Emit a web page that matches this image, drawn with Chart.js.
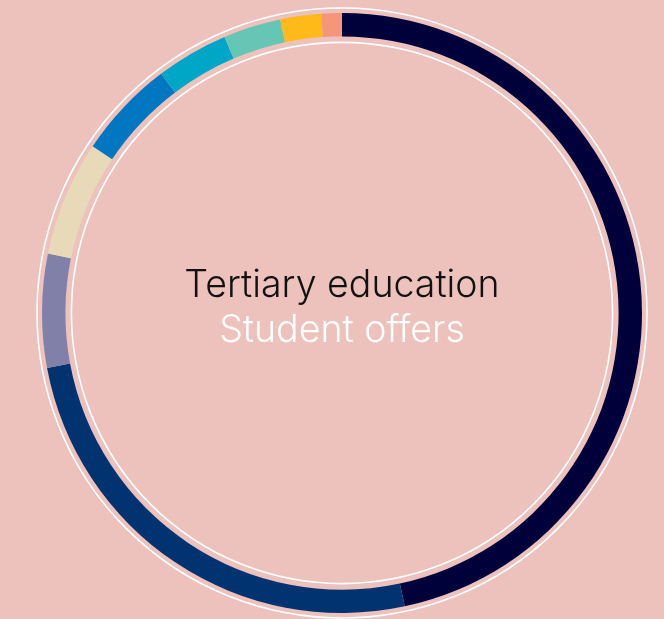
<!DOCTYPE html>
<html>
<head>
<meta charset="utf-8">
<script src="https://cdn.jsdelivr.net/npm/chart.js@4/dist/chart.umd.min.js"></script>
<style>
    html, body { margin: 0; padding: 0; background: #edc2bd; }
    #wrap { width: 664px; height: 619px; }
</style>
</head>
<body>
<div id="wrap"><canvas id="ring" width="664" height="619"></canvas></div>
<script>
// segments clockwise from 12 o'clock (share of total, %)
const segmentLabels = ['Segment 1', 'Segment 2', 'Segment 3', 'Segment 4', 'Segment 5',
    'Segment 6', 'Segment 7', 'Segment 8', 'Segment 9'];
const segmentValues = [46.6, 25.4, 6.1, 6.2, 5.3, 3.9, 3.1, 2.2, 1.1];
const segmentColors = ['#00003a', '#00336f', '#8080a8', '#e8dab8', '#0077c0',
    '#00a6c6', '#66c6b6', '#ffba1a', '#f5957a'];
const titleLines = ['Tertiary education', 'Student offers'];

// thin white guide circles + centre title
const ringDecor = {
    id: 'ringDecor',
    afterDatasetsDraw(chart) {
        const arc = chart.getDatasetMeta(0).data[0];
        if (!arc) return;
        const { x, y, outerRadius, innerRadius } = arc.getProps(['x', 'y', 'outerRadius', 'innerRadius'], true);
        const c = chart.ctx;
        c.save();
        c.strokeStyle = '#ffffff';
        c.lineWidth = 1.6;
        c.beginPath();
        c.arc(x, y, outerRadius + 5, 0, Math.PI * 2);
        c.stroke();
        c.beginPath();
        c.arc(x, y, innerRadius - 6, 0, Math.PI * 2);
        c.stroke();

        c.textAlign = 'center';
        c.textBaseline = 'alphabetic';
        c.font = '300 37.5px Inter';
        c.fillStyle = '#111111';
        c.fillText(titleLines[0], x, y - 16);
        c.fillStyle = '#ffffff';
        c.fillText(titleLines[1], x, y + 29);
        c.restore();
    },
};

new Chart(document.getElementById('ring'), {
    type: 'doughnut',
    data: {
        labels: segmentLabels,
        datasets: [{
            data: segmentValues,
            backgroundColor: segmentColors,
            borderWidth: 0,
            hoverOffset: 0,
        }],
    },
    options: {
        responsive: false,
        animation: false,
        cutout: '92.2%',
        layout: { padding: { left: 42, right: 22, top: 13, bottom: 6 } },
        plugins: {
            legend: { display: false },
            tooltip: { enabled: false },
        },
    },
    plugins: [ringDecor],
});
</script>
</body>
</html>
